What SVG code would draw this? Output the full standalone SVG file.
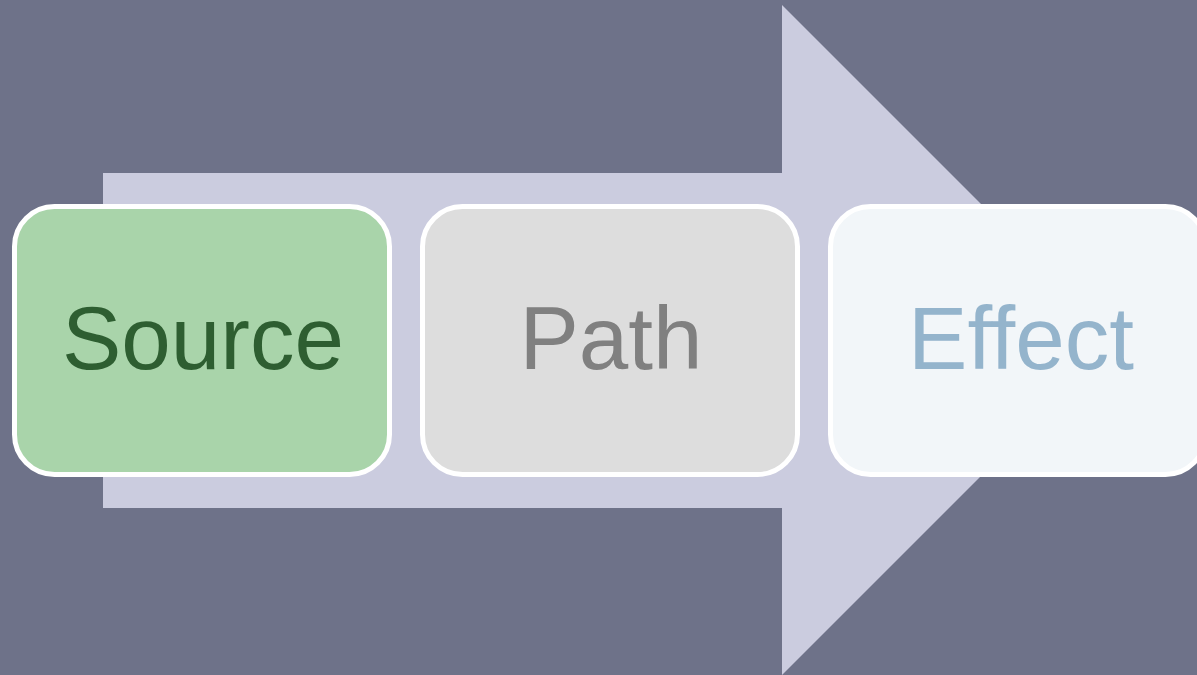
<svg xmlns="http://www.w3.org/2000/svg" width="1197" height="675" viewBox="0 0 1197 675">
<style>
.box{stroke:#FFFFFF;stroke-width:5}
.lbl{font-family:"Liberation Sans",Arial,sans-serif;font-size:89px;text-anchor:middle}
</style>
<rect x="0" y="0" width="1197" height="675" fill="#6E7289"/>
<g id="connectors">
<polygon points="103,173 782,173 782,5 1117,340 782,675 782,508 103,508" fill="#CBCCDF"/>
</g>
<g id="source">
<rect class="box" x="14.5" y="206.5" width="375" height="268" rx="40" fill="#A9D4AA"/>
<text class="lbl" x="203" y="369" fill="#2E5E31">Source</text>
</g>
<g id="path">
<rect class="box" x="422.5" y="206.5" width="375" height="268" rx="40" fill="#DDDDDD"/>
<text class="lbl" x="611" y="369" fill="#808080">Path</text>
</g>
<g id="effect">
<rect class="box" x="830.5" y="206.5" width="375" height="268" rx="40" fill="#F2F6F9"/>
<text class="lbl" x="1021" y="369" fill="#94B4CC">Effect</text>
</g>
</svg>
